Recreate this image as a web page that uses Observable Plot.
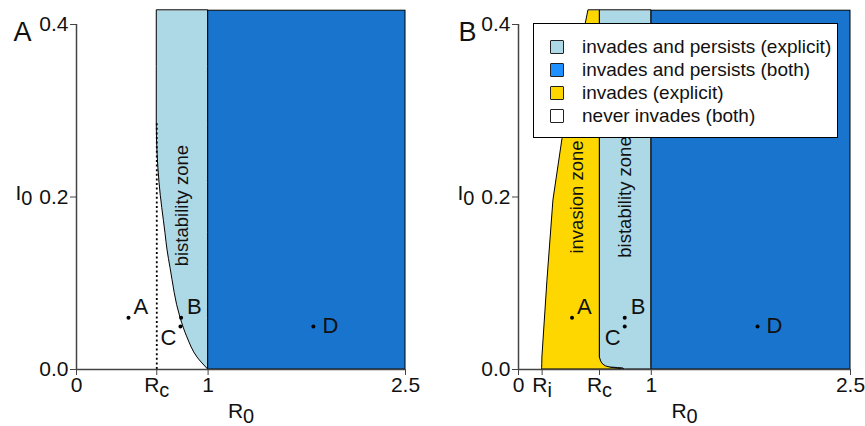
<!DOCTYPE html>
<html><head><meta charset="utf-8">
<script src="https://cdn.jsdelivr.net/npm/d3@7"></script>
<script src="https://cdn.jsdelivr.net/npm/@observablehq/plot@0.6"></script>
<style>
body{margin:0;background:#fff;font-family:"Liberation Sans",Arial,sans-serif;}
#wrap{position:relative;width:865px;height:426px;overflow:hidden;}
#pa{position:absolute;left:0;top:0;}
#pb{position:absolute;left:440px;top:0;}
#legend{position:absolute;left:533px;top:23px;width:303px;height:113px;border:1.5px solid #000;background:#fff;}
.row{position:absolute;left:0;height:23px;line-height:23px;font-size:19px;color:#111;white-space:nowrap;}
.sw{position:absolute;left:16px;top:4px;width:12px;height:12px;border:1.5px solid #222;border-radius:1px;}
.lab{position:absolute;left:48px;top:-1px;}
</style></head><body>
<div id="wrap"><div id="pa"></div><div id="pb"></div><div id="legend"></div></div>
<script>
// ---------- data ----------
const TOP = 0.416;             // upper edge of the computed region
const Rc = 0.61, Ri = 0.178;

// Panel A: bistability boundary curve
const curveA_R0 = [0.61, 0.631, 0.676, 0.692, 0.714, 0.790, 0.843, 0.919, 1.0];
const curveA_I0 = [0.285, 0.216, 0.158, 0.138, 0.118, 0.060, 0.037, 0.014, 0];

// Panel B: invasion zone (yellow) boundaries
const yellowI0    = [0.416, 0.323, 0.267, 0.196, 0.103, 0.014, 0.006, 0.002, 0];
const yellowLeft  = [0.526, 0.406, 0.331, 0.263, 0.218, 0.180, 0.179, 0.178, 0.178];
const yellowRight = [0.613, 0.613, 0.613, 0.613, 0.613, 0.613, 0.640, 0.700, 0.790];

// Panel B: bistability zone (light blue) left boundary
const blueLightI0   = [0.416, 0.0139, 0.0093, 0.0058, 0.0035, 0.0023, 0.0017, 0.0012, 0];
const blueLightLeft = [0.613, 0.613, 0.622, 0.637, 0.660, 0.692, 0.750, 0.789, 0.800];

// Example points
const pointLabels = ["A", "B", "C", "D"];
const pointsA_R0 = [0.395, 0.795, 0.79, 1.8];
const pointsB_R0 = [0.403, 0.80, 0.80, 1.8];
const points_I0  = [0.06, 0.06, 0.05, 0.05];

// Ticks
const ticksA = [0, Rc, 1, 2.5];
const tickLabelsA = ["0", "R_c", "1", "2.5"];
const ticksB = [0, Ri, Rc, 1, 2.5];
const tickLabelsB = ["0", "R_i", "R_c", "1", "2.5"];
const ticksY = [0, 0.2, 0.4];
const tickLabelsY = ["0.0", "0.2", "0.4"];

// Legend
const legendLabels = ["invades and persists (explicit)", "invades and persists (both)", "invades (explicit)", "never invades (both)"];
const legendColors = ["#ADD8E6", "#1E90FF", "#FFD700", "#FFFFFF"];

// ---------- helpers ----------
const LIGHT = "#ADD8E6", BLUE = "#1874CD", GOLD = "#FFD700";
const FONT = '"Liberation Sans", Arial, sans-serif';

function subscriptify(svg) {
  d3.select(svg).selectAll("text").each(function () {
    const s = this.textContent;
    if (!s.includes("_")) return;
    const [base, sub] = s.split("_");
    this.textContent = "";
    const t = d3.select(this);
    t.append("tspan").text(base);
    t.append("tspan").attr("dy", "0.25em").attr("font-size", "95%").text(sub);
  });
}

function commonMarks(ticks, tickLabels, letter, R0, lbl) {
  const idx = d3.range(pointLabels.length);
  const pt = (i, opts) => Plot.text([i], {x: j => R0[j], y: j => points_I0[j], text: j => pointLabels[j], fontSize: 22, fill: "#111", lineAnchor: "middle", ...opts});
  return [
    // axes
    Plot.ruleY([0], {x1: 0, x2: 2.5, stroke: "#444", strokeWidth: 1.5}),
    Plot.ruleX([0], {y1: 0, y2: 0.4, stroke: "#444", strokeWidth: 1.5}),
    Plot.axisX(ticks, {tickFormat: d => tickLabels[ticks.indexOf(d)], tickSize: 6, tickPadding: 2, label: null, stroke: "#444", fill: "#111"}),
    Plot.axisY(ticksY, {tickFormat: d => tickLabelsY[ticksY.indexOf(d)], tickSize: 6, tickPadding: 2, label: null, stroke: "#444", fill: "#111"}),
    // axis titles
    Plot.text(["I_0"], {y: 0.2, frameAnchor: "left", dx: -61, dy: -4, textAnchor: "start", lineAnchor: "middle", fontSize: 21, fill: "#111"}),
    Plot.text(["R_0"], {frameAnchor: "bottom", dy: 42, lineAnchor: "middle", fontSize: 21, fill: "#111"}),
    Plot.text([letter], {frameAnchor: "top-left", dx: lbl, dy: 8, textAnchor: "start", lineAnchor: "middle", fontSize: 27, fill: "#111"}),
    // points
    Plot.dot(idx, {x: j => R0[j], y: j => points_I0[j], r: 2, fill: "#000", stroke: null}),
    pt(0, {dx: 5, dy: -11, textAnchor: "start"}),
    pt(1, {dx: 6, dy: -11, textAnchor: "start"}),
    pt(2, {dx: -4, dy: 12, textAnchor: "end"}),
    pt(3, {dx: 9, dy: 0, textAnchor: "start"})
  ];
}

const base = {
  height: 426, marginTop: 24, marginBottom: 57,
  x: {domain: [0, 2.5], axis: null},
  y: {domain: [0, 0.4], axis: null},
  style: {fontFamily: FONT, fontSize: "21px", color: "#111", background: "transparent", overflow: "visible"}
};

// ---------- Panel A ----------
const aRows = [{y: TOP, l: Rc}].concat(curveA_I0.map((v, i) => ({y: v, l: curveA_R0[i]})));
const plotA = Plot.plot({
  ...base, width: 430, marginLeft: 76, marginRight: 25,
  marks: [
    Plot.rect([0], {x1: 1, x2: 2.5, y1: 0, y2: TOP, fill: BLUE, stroke: "#000", strokeWidth: 1}),
    Plot.areaX(aRows, {y: "y", x1: "l", x2: 1, fill: LIGHT, stroke: "#000", strokeWidth: 1, curve: "monotone-y"}),
    Plot.ruleX([Rc], {y1: 0, y2: curveA_I0[0], stroke: "#000", strokeWidth: 1.8, strokeDasharray: "2,2.6"}),
    Plot.text(["bistability zone"], {x: 0.805, y: 0.19, rotate: -90, fontSize: 18.5, fill: "#111"}),
    ...commonMarks(ticksA, tickLabelsA, "A", pointsA_R0, -63)
  ]
});
subscriptify(plotA);
document.getElementById("pa").appendChild(plotA);

// ---------- Panel B ----------
const yRows = yellowI0.map((v, i) => ({y: v, l: yellowLeft[i], r: yellowRight[i]}));
const lRows = blueLightI0.map((v, i) => ({y: v, l: blueLightLeft[i]}));
const plotB = Plot.plot({
  ...base, width: 425, marginLeft: 78, marginRight: 15,
  marks: [
    Plot.rect([0], {x1: 1, x2: 2.5, y1: 0, y2: TOP, fill: BLUE, stroke: "#000", strokeWidth: 1}),
    Plot.areaX(yRows, {y: "y", x1: "l", x2: "r", fill: GOLD, stroke: "#000", strokeWidth: 1, curve: "linear"}),
    Plot.areaX(lRows, {y: "y", x1: "l", x2: 1, fill: LIGHT, stroke: "#000", strokeWidth: 1, curve: "linear"}),
    Plot.text(["invasion zone"], {x: 0.444, y: 0.2, rotate: -90, fontSize: 18.5, fill: "#111"}),
    Plot.text(["bistability zone"], {x: 0.805, y: 0.2, rotate: -90, fontSize: 18.5, fill: "#111"}),
    ...commonMarks(ticksB, tickLabelsB, "B", pointsB_R0, -60)
  ]
});
subscriptify(plotB);
document.getElementById("pb").appendChild(plotB);

// ---------- Legend ----------
const leg = d3.select("#legend");
legendLabels.forEach((lab, i) => {
  const row = leg.append("div").attr("class", "row").style("top", (12 + i * 23) + "px").style("width", "300px");
  row.append("div").attr("class", "sw").style("background", legendColors[i]);
  row.append("span").attr("class", "lab").text(lab);
});
</script>
</body></html>
